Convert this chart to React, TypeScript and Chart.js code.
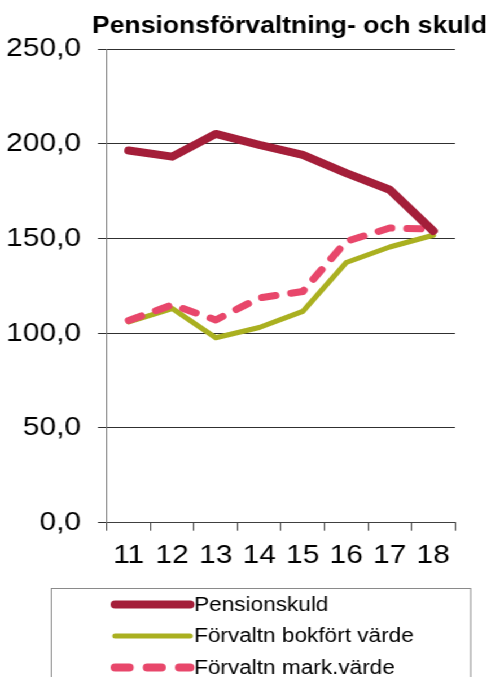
import React, { useEffect, useRef } from 'react';
import { Chart, registerables } from 'chart.js';

Chart.register(...registerables);

// ---- data ----
const categories = ['11', '12', '13', '14', '15', '16', '17', '18'];
const pensionskuld = [196.4, 193.2, 205.2, 199.4, 194.1, 184.5, 175.7, 154.0];
const bokfort = [106.0, 113.0, 97.6, 103.0, 111.5, 137.3, 145.5, 151.7];
const markvarde = [106.7, 115.0, 107.0, 118.6, 122.0, 148.5, 155.5, 154.9];
const seriesNames = ['Pensionskuld', 'Förvaltn bokfört värde', 'Förvaltn mark.värde'];
const titleText = 'Pensionsförvaltning- och skuld';
const yMin = 0;
const yMax = 250;
const yStep = 50;

const FONT = "'Liberation Sans', Arial, Helvetica, sans-serif";
const STRETCH = 491 / 435;

const boxLegend = {
  id: 'boxLegend',
  afterDraw(chart: any) {
    const ctx = chart.ctx as CanvasRenderingContext2D;
    const xs = chart.scales.x;
    const top = xs.bottom + 17.5;
    const left = 45;
    const right = 416.5;
    ctx.save();
    ctx.strokeStyle = '#8a8a8a';
    ctx.lineWidth = 1;
    ctx.strokeRect(Math.round(left) + 0.5, Math.round(top) + 0.5, right - left, chart.height - top + 20);
    const rowGap = 31.5;
    const sampleL = 102;
    const sampleR = 168.3;
    chart.data.datasets.forEach((ds: any, i: number) => {
      const y = top + 16.5 + i * rowGap;
      ctx.save();
      ctx.strokeStyle = ds.borderColor;
      ctx.lineWidth = ds.legendWidth || ds.borderWidth;
      ctx.lineCap = 'round';
      ctx.setLineDash(ds.legendDash || ds.borderDash || []);
      ctx.beginPath();
      ctx.moveTo(sampleL, y);
      ctx.lineTo(sampleR, y);
      ctx.stroke();
      ctx.restore();
      ctx.fillStyle = '#000';
      ctx.font = `20px ${FONT}`;
      ctx.textBaseline = 'middle';
      ctx.textAlign = 'left';
      ctx.fillText(ds.label, 172, y + 0.5);
    });
    ctx.restore();
  },
};

export default function App() {
  const ref = useRef<HTMLCanvasElement>(null);

  useEffect(() => {
    if (!ref.current) return;
    const chart = new Chart(ref.current, {
      type: 'line',
      data: {
        labels: categories,
        datasets: [
          {
            label: seriesNames[0],
            data: pensionskuld,
            borderColor: '#A41E39',
            backgroundColor: '#A41E39',
            borderWidth: 8,
            legendWidth: 8,
            order: 0,
          } as any,
          {
            label: seriesNames[1],
            data: bokfort,
            borderColor: '#AAB020',
            backgroundColor: '#AAB020',
            borderWidth: 5,
            legendWidth: 5,
            order: 2,
          } as any,
          {
            label: seriesNames[2],
            data: markvarde,
            borderColor: '#E8476B',
            backgroundColor: '#E8476B',
            borderWidth: 7,
            legendWidth: 8,
            borderDash: [12, 14],
            legendDash: [12.5, 16],
            order: 1,
          } as any,
        ],
      },
      options: {
        animation: false,
        responsive: true,
        maintainAspectRatio: false,
        elements: {
          point: { radius: 0, hoverRadius: 0 },
          line: { tension: 0, borderCapStyle: 'round', borderJoinStyle: 'round', fill: false },
        },
        layout: { padding: { top: 0, right: 3.5, bottom: 106.5, left: 0 } },
        plugins: {
          legend: { display: false },
          tooltip: { enabled: false },
          title: {
            display: true,
            text: titleText,
            align: 'end',
            color: '#000',
            font: { family: FONT, size: 23.5, weight: 'bold' },
            padding: { top: 12, bottom: 8.8 },
          },
        },
        scales: {
          x: {
            type: 'category',
            offset: true,
            grid: {
              display: true,
              offset: true,
              drawOnChartArea: false,
              drawTicks: true,
              tickLength: 8,
              color: '#404040',
            },
            border: { display: true, color: '#404040', width: 1 },
            ticks: {
              color: '#000',
              font: { family: FONT, size: 26.5 },
              padding: 9,
              autoSkip: false,
              maxRotation: 0,
              minRotation: 0,
            },
            afterFit: (s: any) => {
              s.height = 47.8;
              s.paddingRight = 31.9;
              s.paddingLeft = 0;
            },
          },
          y: {
            min: yMin,
            max: yMax,
            grid: {
              color: '#303030',
              drawTicks: true,
              tickLength: 8,
              lineWidth: 1,
            },
            border: { display: true, color: '#7a7a7a', width: 1 },
            ticks: {
              stepSize: yStep,
              color: '#000',
              font: { family: FONT, size: 26.5 },
              padding: 15,
              callback: (v: any) => Number(v).toFixed(1).replace('.', ','),
            },
            afterFit: (s: any) => {
              s.width = 94.8;
            },
          },
        },
      } as any,
      plugins: [boxLegend],
    });
    return () => chart.destroy();
  }, []);

  return (
    <div
      style={{
        position: 'absolute',
        left: 0,
        top: 0,
        width: 435,
        height: 677,
        transform: `scaleX(${STRETCH})`,
        transformOrigin: '0 0',
        background: '#fff',
      }}
    >
      <canvas ref={ref} />
    </div>
  );
}
